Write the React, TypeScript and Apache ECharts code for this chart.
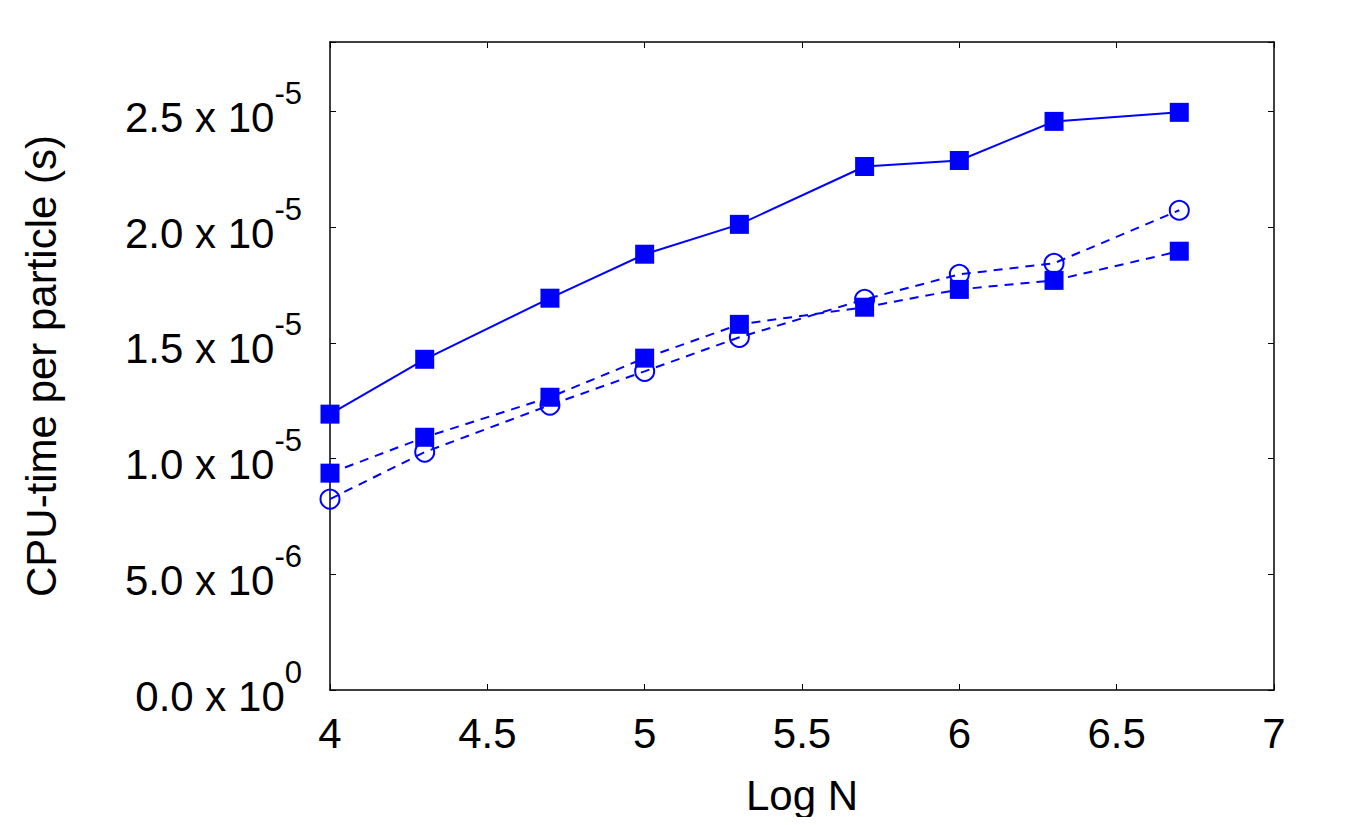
import React, { useEffect, useRef } from "react";
import * as echarts from "echarts";

const logN = [4, 4.301, 4.699, 5, 5.301, 5.699, 6, 6.301, 6.699];
const solidSquares = [1.192e-5, 1.429e-5, 1.693e-5, 1.883e-5, 2.012e-5, 2.262e-5, 2.288e-5, 2.457e-5, 2.496e-5];
const dashedSquares = [0.937e-5, 1.092e-5, 1.265e-5, 1.434e-5, 1.58e-5, 1.654e-5, 1.731e-5, 1.77e-5, 1.896e-5];
const dashedCircles = [0.825e-5, 1.028e-5, 1.231e-5, 1.377e-5, 1.524e-5, 1.688e-5, 1.796e-5, 1.844e-5, 2.073e-5];

const yTickMantissa = ["0.0", "5.0", "1.0", "1.5", "2.0", "2.5"];
const yTickExponent = ["0", "-6", "-5", "-5", "-5", "-5"];
const Y_STEP = 5e-6;

const FONT = "Liberation Sans";
const BLUE = "#0000ff";

export default function App() {
  const ref = useRef<HTMLDivElement>(null);
  useEffect(() => {
    if (!ref.current) return;
    const chart = echarts.init(ref.current, undefined, { renderer: "svg" });
    const pairs = (ys: number[]) => logN.map((x, i) => [x, ys[i]]);
    const axisLine = { show: true, onZero: false, lineStyle: { color: "#000", width: 1.5 } };
    const axisTick = { show: true, inside: true, length: 6, lineStyle: { color: "#000", width: 1 } };
    chart.setOption({
      animation: false,
      backgroundColor: "#fff",
      grid: { left: 330, right: 76, top: 42, bottom: 135, containLabel: false },
      xAxis: [
        {
          type: "value",
          min: 4,
          max: 7,
          interval: 0.5,
          position: "bottom",
          axisLine,
          axisTick,
          splitLine: { show: false },
          axisLabel: { fontFamily: FONT, fontSize: 42, color: "#000", margin: 22 },
          name: "Log N",
          nameLocation: "middle",
          nameGap: 84,
          nameTextStyle: { fontFamily: FONT, fontSize: 42, color: "#000" },
        },
        {
          type: "value",
          min: 4,
          max: 7,
          interval: 0.5,
          position: "top",
          axisLine,
          axisTick,
          splitLine: { show: false },
          axisLabel: { show: false },
        },
      ],
      yAxis: [
        {
          type: "value",
          min: 0,
          max: 2.8e-5,
          interval: Y_STEP,
          position: "left",
          axisLine,
          axisTick,
          splitLine: { show: false },
          axisLabel: {
            margin: 28,
            formatter: (v: number) => {
              const idx = Math.round(v / Y_STEP);
              if (Math.abs(v / Y_STEP - idx) > 1e-6 || idx >= yTickMantissa.length) return "";
              return `{a|${yTickMantissa[idx]} x 10}{b|${yTickExponent[idx]}}`;
            },
            rich: {
              a: { fontFamily: FONT, fontSize: 42, color: "#000", padding: [12, 0, 0, 0] },
              b: { fontFamily: FONT, fontSize: 31, color: "#000", padding: [0, 0, 36, 0] },
            },
          },
          name: "CPU-time per particle (s)",
          nameLocation: "middle",
          nameGap: 268,
          nameTextStyle: { fontFamily: FONT, fontSize: 42, color: "#000" },
        },
        {
          type: "value",
          min: 0,
          max: 2.8e-5,
          interval: Y_STEP,
          position: "right",
          axisLine,
          axisTick,
          splitLine: { show: false },
          axisLabel: { show: false },
        },
      ],
      series: [
        {
          type: "line",
          data: pairs(dashedCircles),
          symbol: "circle",
          symbolSize: 19,
          lineStyle: { color: BLUE, width: 2, type: [9, 7] },
          itemStyle: { color: "rgba(0,0,0,0)", borderColor: BLUE, borderWidth: 2 },
          xAxisIndex: 0,
          yAxisIndex: 0,
        },
        {
          type: "line",
          data: pairs(dashedSquares),
          symbol: "rect",
          symbolSize: 19,
          lineStyle: { color: BLUE, width: 2, type: [9, 7] },
          itemStyle: { color: BLUE, borderWidth: 0 },
          xAxisIndex: 0,
          yAxisIndex: 0,
        },
        {
          type: "line",
          data: pairs(solidSquares),
          symbol: "rect",
          symbolSize: 19,
          lineStyle: { color: BLUE, width: 2, type: "solid" },
          itemStyle: { color: BLUE, borderWidth: 0 },
          xAxisIndex: 0,
          yAxisIndex: 0,
        },
      ],
    });
    return () => chart.dispose();
  }, []);
  return <div ref={ref} style={{ width: 1350, height: 825, margin: -8 }} />;
}
